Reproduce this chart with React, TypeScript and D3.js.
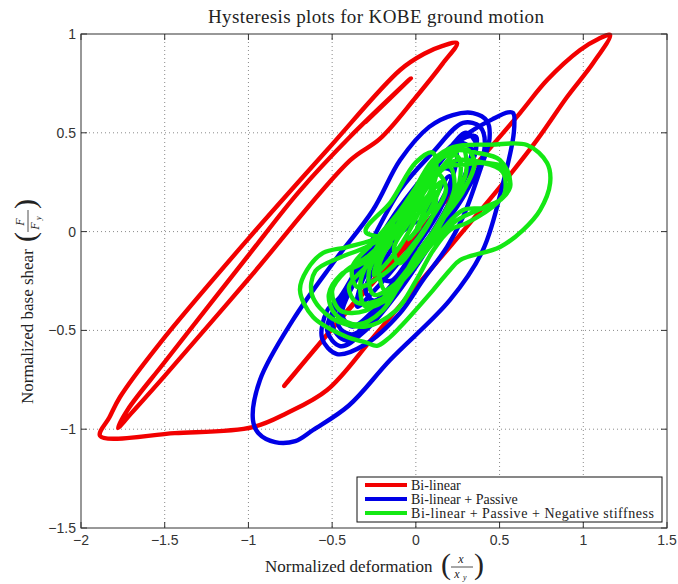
import React from 'react';
import * as d3 from 'd3';

const W = 678;
const H = 584;

const xTicks = [-2, -1.5, -1, -0.5, 0, 0.5, 1, 1.5];
const yTicks = [-1.5, -1, -0.5, 0, 0.5, 1];
const xTickLabels = ['\u22122', '\u22121.5', '\u22121', '\u22120.5', '0', '0.5', '1', '1.5'];
const yTickLabels = ['\u22121.5', '\u22121', '\u22120.5', '0', '0.5', '1'];

const seriesNames = ['Bi-linear', 'Bi-linear + Passive', 'Bi-linear + Passive + Negative stiffness'];
const seriesColors = ['#f20000', '#0000e6', '#14e814'];

// [deformation, shear], in drawing order
const redPath = [
  [0, 0], [-0.4, -0.39], [-0.787, -0.781], [-0.4, -0.395], [0, -0.02], [0.4, 0.38],
  [0.622, 0.6], [0.784, 0.767], [0.981, 0.919], [1.09, 0.975], [1.16, 0.995],
  [1.059, 0.853], [0.903, 0.681], [0.724, 0.464], [0.503, 0.226], [0.1, -0.18],
  [-0.25, -0.53], [-0.53, -0.802], [-0.769, -0.918], [-0.973, -0.989], [-1.44, -1.02],
  [-1.886, -1.034], [-1.83, -0.94], [-1.767, -0.837], [-1.528, -0.564], [-1.008, -0.043],
  [-0.53, 0.413], [-0.094, 0.818], [0.05, 0.9], [0.16, 0.94], [0.246, 0.954],
  [0.16, 0.85], [0.0, 0.68], [-0.214, 0.47], [-0.393, 0.36], [-1.0, -0.24],
  [-1.5, -0.73], [-1.7, -0.92], [-1.779, -0.994], [-1.72, -0.9], [-1.5, -0.66],
  [-1.0, -0.12], [-0.7, 0.2], [-0.393, 0.48], [-0.03, 0.776], [-0.3, 0.555],
];

const bluePath = [
  [0, 0], [0.1, 0.15], [0.2, 0.28], [0.22, 0.2], [0.1, 0.0], [-0.08, -0.2], [-0.25, -0.35],
  [-0.3, -0.3], [-0.2, -0.12], [-0.05, 0.08], [0.1, 0.3], [0.28, 0.47], [0.36, 0.48],
  [0.33, 0.35], [0.2, 0.1], [0.02, -0.15], [-0.2, -0.4], [-0.38, -0.52], [-0.46, -0.48],
  [-0.42, -0.32], [-0.28, -0.12], [-0.1, 0.12], [0.1, 0.33], [0.3, 0.49], [0.46, 0.57],
  [0.55, 0.603], [0.581, 0.6], [0.585, 0.5], [0.521, 0.246], [0.401, -0.093],
  [0.204, -0.346], [-0.154, -0.65], [-0.4, -0.88], [-0.614, -1.004], [-0.72, -1.06],
  [-0.841, -1.065], [-0.94, -1.02], [-0.973, -0.953], [-0.931, -0.751], [-0.734, -0.447],
  [-0.495, -0.159], [-0.256, 0.109], [-0.094, 0.362], [0.08, 0.53], [0.22, 0.59],
  [0.342, 0.6], [0.425, 0.56], [0.44, 0.47], [0.384, 0.312], [0.282, 0.074],
  [0.186, -0.078], [0.043, -0.245], [-0.094, -0.412], [-0.3, -0.57], [-0.471, -0.62],
  [-0.56, -0.54], [-0.53, -0.4], [-0.453, -0.331], [-0.333, -0.159], [-0.094, 0.21],
  [0.1, 0.4], [0.282, 0.55], [0.384, 0.53], [0.41, 0.42], [0.3, 0.2], [0.1, -0.05],
  [-0.1, -0.3], [-0.3, -0.5], [-0.45, -0.58], [-0.53, -0.5], [-0.46, -0.35],
  [-0.3, -0.15], [-0.1, 0.1], [0.1, 0.33], [0.25, 0.45], [0.33, 0.42], [0.3, 0.3],
  [0.18, 0.1], [0.0, -0.12], [-0.2, -0.35], [-0.38, -0.48], [-0.44, -0.42],
  [-0.38, -0.28], [-0.2, -0.05], [0.0, 0.18], [0.15, 0.32], [0.22, 0.3], [0.15, 0.12],
  [0.0, -0.08], [-0.15, -0.25], [-0.22, -0.22], [-0.12, -0.05], [0.05, 0.25],
  [0.2, 0.42], [0.3, 0.5], [0.36, 0.44], [0.28, 0.25], [0.12, 0.02], [-0.08, -0.25],
  [-0.28, -0.45], [-0.42, -0.55], [-0.5, -0.47], [-0.42, -0.3], [-0.25, -0.08],
  [-0.05, 0.15], [0.12, 0.35], [0.24, 0.4], [0.22, 0.28], [0.1, 0.08], [-0.05, -0.1],
  [-0.25, -0.3], [-0.35, -0.38], [-0.32, -0.25], [-0.15, -0.05], [0, 0.05],
];

const greenPath = [
  [0, 0], [0.06, 0.12], [0.12, 0.2], [0.1, 0.08], [0.0, -0.06], [-0.1, -0.16],
  [-0.13, -0.08], [-0.04, 0.05], [0.08, 0.24], [0.2, 0.33], [0.23, 0.22], [0.12, 0.02],
  [-0.04, -0.18], [-0.18, -0.3], [-0.22, -0.18], [-0.12, 0.0], [0.0, 0.2], [0.12, 0.36],
  [0.25, 0.38], [0.26, 0.25], [0.14, 0.05], [-0.02, -0.16], [-0.15, -0.33], [-0.3, -0.38],
  [-0.33, -0.25], [-0.22, -0.06], [-0.05, 0.15], [0.1, 0.36], [0.222, 0.428], [0.45, 0.44],
  [0.664, 0.438], [0.784, 0.347], [0.802, 0.246], [0.742, 0.109], [0.64, 0.008],
  [0.503, -0.078], [0.264, -0.144], [0.204, -0.194], [0.103, -0.296], [-0.094, -0.483],
  [-0.17, -0.545], [-0.232, -0.578], [-0.3, -0.56], [-0.411, -0.533], [-0.614, -0.432],
  [-0.692, -0.296], [-0.65, -0.194], [-0.554, -0.108], [-0.411, -0.078], [-0.214, -0.027],
  [-0.06, 0.08], [0.06, 0.26], [0.15, 0.38], [0.222, 0.413], [0.36, 0.4], [0.503, 0.362],
  [0.563, 0.246], [0.485, 0.145], [0.306, 0.044], [0.204, 0.008], [0.1, -0.1],
  [0.0, -0.25], [-0.12, -0.4], [-0.3, -0.48], [-0.5, -0.44], [-0.62, -0.32],
  [-0.6, -0.2], [-0.45, -0.13], [-0.3, -0.08], [-0.15, 0.0], [0.0, 0.15], [0.12, 0.3],
  [0.246, 0.362], [0.4, 0.35], [0.521, 0.327], [0.563, 0.226], [0.443, 0.125],
  [0.282, 0.109], [0.15, 0.0], [0.0, -0.15], [-0.15, -0.3], [-0.3, -0.4], [-0.45, -0.4],
  [-0.5, -0.3], [-0.42, -0.2], [-0.28, -0.12], [-0.12, 0.02], [0.02, 0.2], [0.15, 0.32],
  [0.3, 0.34], [0.401, 0.347], [0.52, 0.3], [0.521, 0.175], [0.4, 0.12], [0.25, 0.06],
  [0.1, -0.06], [-0.05, -0.22], [-0.2, -0.34], [-0.35, -0.36], [-0.4, -0.28],
  [-0.3, -0.18], [-0.15, -0.05], [-0.3, 0.0], [-0.15, 0.15], [0.0, 0.35], [0.1, 0.4],
  [0.12, 0.28], [0.02, 0.1], [-0.1, -0.08], [-0.25, -0.22], [-0.2, -0.1], [-0.05, 0.05],
  [0.05, 0.2], [0.18, 0.35], [0.28, 0.42], [0.3, 0.3], [0.2, 0.12], [0.05, -0.1],
  [-0.1, -0.25], [-0.25, -0.32], [-0.28, -0.2], [-0.15, -0.02], [0.0, 0.18], [0.12, 0.3],
  [0.18, 0.22], [0.08, 0.05], [-0.05, -0.1], [-0.2, -0.22], [-0.35, -0.28], [-0.38, -0.18],
  [-0.25, -0.05], [-0.1, 0.1], [0.05, 0.28], [0.2, 0.4], [0.3, 0.42], [0.35, 0.35],
  [0.28, 0.2], [0.15, 0.05], [0.0, -0.12], [-0.2, -0.4], [-0.35, -0.47], [-0.48, -0.42],
  [-0.52, -0.32], [-0.45, -0.22], [-0.3, -0.15], [-0.12, 0.0], [0.05, 0.16], [0.15, 0.25],
  [0.08, 0.1], [-0.04, -0.04], [0.02, 0.02],
];

const series = [redPath, bluePath, greenPath];

const serif = '"Liberation Serif", "Times New Roman", serif';
const sans = '"Liberation Sans", Arial, sans-serif';

// small LaTeX-like fraction in parentheses: (num / den_sub)
function Frac({ x, y, num, den, sub }: { x: number; y: number; num: string; den: string; sub: string }) {
  return (
    <g transform={`translate(${x},${y})`} fontFamily={serif} fill="#222">
      <text x={0} y={6} fontSize={30}>(</text>
      <text x={20} y={-5} fontSize={12} fontStyle="italic" textAnchor="middle">{num}</text>
      <line x1={10} x2={32} y1={-1} y2={-1} stroke="#222" strokeWidth={0.8} />
      <text x={16} y={10} fontSize={12} fontStyle="italic" textAnchor="middle">{den}</text>
      <text x={22} y={12} fontSize={8} fontStyle="italic">{sub}</text>
      <text x={33} y={6} fontSize={30}>)</text>
    </g>
  );
}

export default function App() {
  const x = d3.scaleLinear().domain([-2, 1.5]).range([81, 667]);
  const y = d3.scaleLinear().domain([-1.5, 1]).range([528, 34]);
  const line = d3
    .line<number[]>()
    .x((d) => x(d[0]))
    .y((d) => y(d[1]))
    .curve(d3.curveCatmullRom.alpha(0.5));

  const [x0, x1] = x.range();
  const [y0, y1] = y.range();

  return (
    <svg width={W} height={H} style={{ position: 'absolute', left: 0, top: 0, background: '#fff' }}>
      <rect x={0} y={0} width={W} height={H} fill="#fff" />

      {/* grid */}
      {xTicks.slice(1, -1).map((t) => (
        <line key={'gx' + t} x1={x(t)} x2={x(t)} y1={y1} y2={y0} stroke="#8a8a8a" strokeWidth={1} strokeDasharray="1 3" />
      ))}
      {yTicks.slice(1, -1).map((t) => (
        <line key={'gy' + t} x1={x0} x2={x1} y1={y(t)} y2={y(t)} stroke="#8a8a8a" strokeWidth={1} strokeDasharray="1 3" />
      ))}

      {/* curves */}
      {series.map((pts, i) => (
        <path key={i} d={line(pts) || ''} fill="none" stroke={seriesColors[i]} strokeWidth={4.4}
          strokeLinejoin="round" strokeLinecap="round" />
      ))}

      {/* box and ticks */}
      <rect x={x0} y={y1} width={x1 - x0} height={y0 - y1} fill="none" stroke="#333" strokeWidth={1} />
      {xTicks.map((t) => (
        <g key={'tx' + t}>
          <line x1={x(t)} x2={x(t)} y1={y0} y2={y0 - 6} stroke="#333" />
          <line x1={x(t)} x2={x(t)} y1={y1} y2={y1 + 6} stroke="#333" />
        </g>
      ))}
      {yTicks.map((t) => (
        <g key={'ty' + t}>
          <line x1={x0} x2={x0 + 6} y1={y(t)} y2={y(t)} stroke="#333" />
          <line x1={x1} x2={x1 - 6} y1={y(t)} y2={y(t)} stroke="#333" />
        </g>
      ))}

      {/* tick labels */}
      {xTicks.map((t, i) => (
        <text key={'lx' + t} x={x(t)} y={545} textAnchor="middle" fontFamily={sans} fontSize={14} fill="#333">
          {xTickLabels[i]}
        </text>
      ))}
      {yTicks.map((t, i) => (
        <text key={'ly' + t} x={76} y={y(t) + 5} textAnchor="end" fontFamily={sans} fontSize={14} fill="#333">
          {yTickLabels[i]}
        </text>
      ))}

      {/* title */}
      <text x={376} y={23} textAnchor="middle" fontFamily={serif} fontSize={19} fill="#222" textLength={336}>
        Hysteresis plots for KOBE ground motion
      </text>

      {/* x label */}
      <text x={265} y={572} fontFamily={serif} fontSize={17} fill="#222">Normalized deformation</text>
      <Frac x={441} y={568} num="x" den="x" sub="y" />

      {/* y label */}
      <g transform="translate(33,404) rotate(-90)">
        <text x={0} y={0} fontFamily={serif} fontSize={17} fill="#222">Normalized base shear</text>
        <Frac x={162} y={-4} num="F" den="F" sub="y" />
      </g>

      {/* legend */}
      <rect x={357} y={477} width={305} height={45} fill="#fff" stroke="#111" strokeWidth={1} />
      {seriesNames.map((name, i) => (
        <g key={name}>
          <line x1={365} x2={407} y1={485 + i * 14} y2={485 + i * 14} stroke={seriesColors[i]} strokeWidth={4} />
          <text x={411} y={489.5 + i * 14} fontFamily={serif} fontSize={14} fill="#222" textLength={i === 2 ? 243 : undefined}>
            {name}
          </text>
        </g>
      ))}
    </svg>
  );
}
